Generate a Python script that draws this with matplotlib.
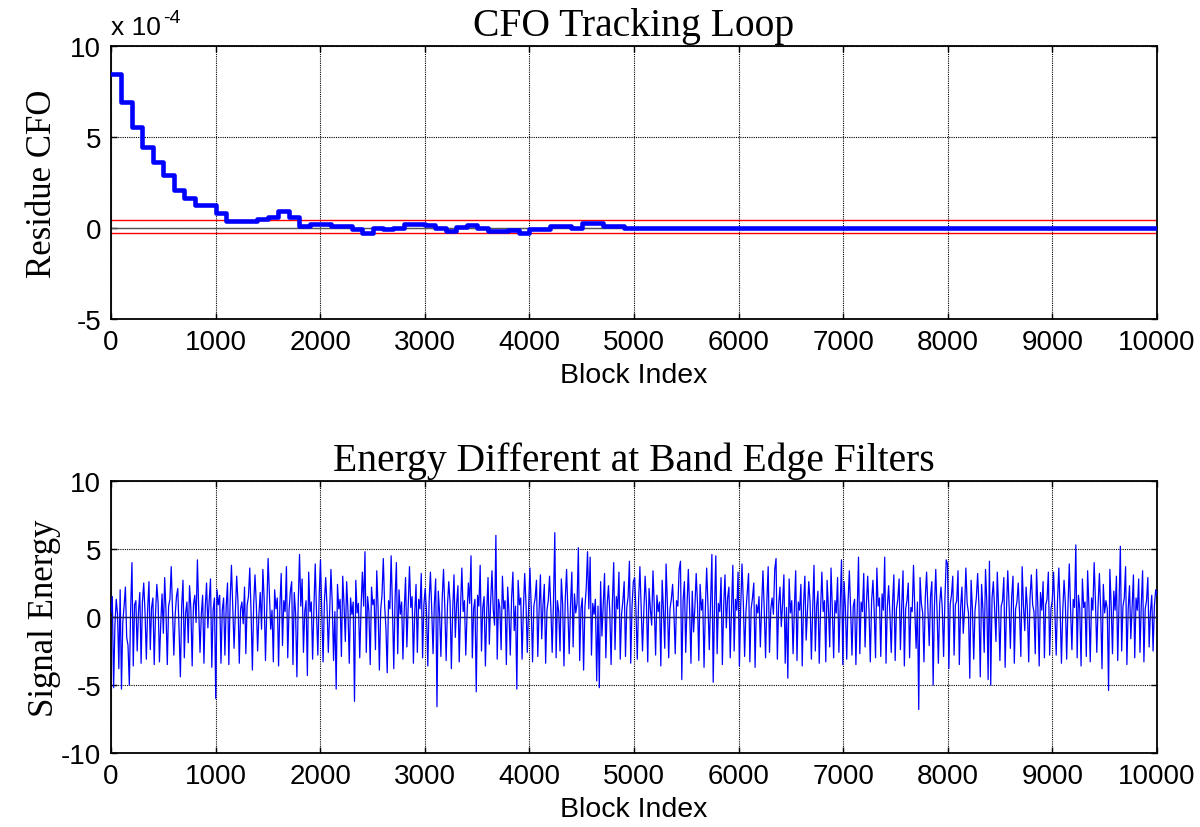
import numpy as np
import matplotlib
matplotlib.use("Agg")
import matplotlib.pyplot as plt
from matplotlib.ticker import FuncFormatter

plt.rcParams["axes.unicode_minus"] = False

# ---------------- data ----------------
# Top panel: residue CFO step curve (values in units of 1e-4)
cfo_step_start = [0, 100, 200, 300, 400, 500, 600, 700, 800, 1000, 1100, 1400,
                  1500, 1600, 1700, 1800, 1900, 2100, 2300, 2400, 2500, 2600,
                  2700, 2800, 3000, 3100, 3200, 3300, 3400, 3500, 3600, 3800,
                  3900, 4000, 4200, 4400, 4500, 4700, 4900, 10000]
cfo_step_value = [8.45, 6.9, 5.55, 4.45, 3.65, 2.9, 2.1, 1.65, 1.25, 0.8, 0.38, 0.47,
                  0.58, 0.93, 0.58, 0.13, 0.24, 0.13, -0.05, -0.25, 0.02, -0.07,
                  0.02, 0.24, 0.15, 0.02, -0.14, 0.05, 0.15, 0.0, -0.17, -0.11,
                  -0.28, -0.07, 0.12, 0.02, 0.25, 0.13, 0.0, 0.0]
cfo_upper_bound = 0.45   # x1e-4
cfo_lower_bound = -0.30  # x1e-4
cfo_scale = 1e-4

# Bottom panel: energy difference at band edge filters (800 samples over 0..10000)
energy_seg0 = [0.3, 1.5, -5.2, -0.6, 1.3, 0.2, -3.8, 2.0, -5.3, -0.4,
               0.8, 2.2, -1.5, -2.1, -5.0, 0.5, 4.0, -3.6, 0.9, 1.2,
               -2.5, 0.4, 1.8, -3.4, 1.1, 2.5, 0.3, -3.1, 0.6, 2.6,
               -2.4, 0.7, 1.4, -3.5, 0.2, 2.4, 1.0, -3.3, -0.5, 1.7,
               -1.2, 2.9, 0.4, -3.5, 0.8, 1.3, 3.7, 0.5, -2.8, 0.1,
               1.5, 2.1, -1.0, -4.4, 0.8, 2.7, -3.0, 0.3, 1.1, -1.9,
               2.3, 0.6, -3.6, 0.9, 1.6, -0.4, 4.2, 0.6, -2.6, 0.2,
               1.6, -3.4, 0.7, 2.5, -0.8, 1.2, 2.8, -3.7, 0.5, 1.4]
energy_seg1 = [-6.0, 2.0, 0.9, 1.6, -3.4, 0.5, 1.4, -2.8, 0.8, 2.5,
               -3.5, 1.2, 3.8, 0.7, -2.3, 0.4, 3.0, 1.1, -3.4, 0.6,
               1.1, -0.5, 2.2, -2.7, 0.9, 1.5, 3.6, 0.3, -3.9, 1.0,
               3.1, 0.9, -2.5, 0.2, 1.8, -0.9, 3.5, 1.3, -3.2, 0.7,
               4.3, 1.6, -0.9, 0.5, -3.3, 2.0, 0.6, 1.4, -3.6, 0.8,
               3.2, -2.1, 1.2, 0.4, 3.7, -3.0, 0.5, 1.9, 2.6, -3.5,
               1.8, 0.3, -4.4, 1.0, 4.6, 0.8, 2.8, -2.6, 0.4, 1.2,
               -4.3, 3.3, 0.4, 1.1, -3.1, 0.7, 3.9, 0.2, -2.8, 1.5]
energy_seg2 = [4.2, 0.6, -3.3, 1.1, 2.9, 0.8, -2.6, 0.3, 3.5, 1.0,
               -3.2, 0.4, -5.3, 2.4, 0.6, 1.3, -2.9, 3.0, 0.9, -1.8,
               2.6, 0.5, -3.4, 1.4, 0.2, 1.1, -6.2, 2.7, 0.3, 1.0,
               -3.0, 0.6, 3.3, 0.8, 4.8, -2.6, 1.5, 0.4, -3.5, 2.2,
               0.9, 1.3, -2.4, 3.4, 0.7, -3.9, 0.5, 1.6, 4.3, 0.9,
               -0.8, -4.1, 1.2, 0.6, 4.5, 0.6, -3.8, 1.4, 4.0, -2.7,
               2.0, 0.2, 1.1, -3.1, 0.5, 2.9, -2.2, 0.8, 3.7, 0.7,
               1.5, -3.4, 0.3, 2.4, -2.6, 1.3, 0.6, 3.2, -3.0, 0.9]
energy_seg3 = [2.1, 0.4, -3.6, 1.2, 3.3, 0.5, -2.7, 1.0, 2.8, -6.6,
               1.9, 0.3, -2.9, 1.4, 3.5, 0.6, -3.2, 0.8, 2.6, 1.1,
               -3.8, 0.5, 3.1, -1.5, 0.9, 2.3, -3.3, 0.7, 3.6, 0.4,
               1.2, -2.8, 0.3, 2.5, 1.0, 4.5, -3.0, 0.6, 1.3, -5.5,
               1.6, 0.8, 3.8, -2.5, 0.7, 1.5, -3.6, 0.4, 2.9, -2.0,
               1.1, 3.4, 0.5, -0.6, 6.0, -3.1, 1.3, 0.7, -2.4, 3.0,
               0.6, 1.2, -3.5, 2.2, 0.3, -2.8, 1.4, 3.3, -1.0, 0.8,
               -5.3, 2.7, 0.9, 1.4, -3.1, 0.5, 3.2, 1.0, -2.6, 0.7]
energy_seg4 = [3.6, 0.7, -3.3, 0.8, 1.4, 2.7, -2.9, 0.5, 3.1, -1.6,
               0.9, 2.4, -3.4, 0.5, 1.2, 3.0, 0.6, -2.6, 1.1, 6.2,
               -3.0, 1.2, 0.4, -2.5, 2.8, 0.9, -3.6, 1.3, 3.5, 0.4,
               -2.7, 0.8, 3.3, -2.2, 1.7, 0.3, 1.0, 5.1, -3.2, 0.6,
               1.4, -3.9, 0.7, 2.1, 4.8, 0.6, 4.4, -2.8, 1.0, 0.2,
               1.3, -4.7, 0.8, -5.2, 2.6, -1.4, 0.9, 3.2, -3.0, 0.9,
               2.3, 0.4, -3.5, 1.1, 4.0, -2.4, 1.5, 0.6, 3.3, -3.1,
               0.2, 1.2, 2.6, -2.9, 0.7, 1.5, 4.1, -3.4, 0.8, 2.6]
energy_seg5 = [2.9, 0.5, -3.1, 1.2, 3.7, 0.7, -2.5, 0.4, 3.0, 1.0,
               -3.3, 2.1, 0.6, -0.6, 3.4, 0.8, -2.8, 1.6, 0.4, 1.1,
               -3.6, 2.7, 0.5, -2.3, 3.9, 1.0, -3.0, 0.6, 1.3, 2.4,
               0.3, -2.7, 1.2, 0.8, 3.5, 4.1, -4.6, 1.2, 2.6, -2.6,
               0.8, 3.5, 0.5, -3.4, 1.9, -1.1, 0.7, 3.2, 1.0, -3.2,
               2.4, 0.5, 1.3, -3.7, 0.6, 3.6, 0.9, -2.4, 1.1, 4.6,
               -4.8, 0.7, 4.5, -2.7, 1.0, 0.4, 2.9, -3.5, 0.8, 3.1,
               -0.8, 1.4, 2.2, -3.0, 0.6, 3.8, -2.5, 1.3, 0.5, 3.3]
energy_seg6 = [-3.6, 0.7, 3.9, 1.1, -2.9, 0.4, 1.8, 3.2, -3.3, 0.6,
               1.4, 2.5, -3.7, 0.9, 0.3, 1.5, -2.2, 0.8, 3.4, 0.5,
               -3.0, 1.2, 3.7, -2.6, 0.6, 1.4, 0.2, 3.5, 4.3, -3.1,
               0.9, 2.2, -0.7, 1.0, 3.1, -3.4, 0.7, -4.5, 2.8, 0.3,
               1.2, -2.7, 0.6, 3.4, -3.2, 1.1, 0.5, 2.4, -3.6, 0.9,
               3.0, -1.7, 0.4, 2.6, 1.1, -3.1, 0.6, 3.8, -2.5, 0.8,
               1.9, -3.4, 0.5, 3.3, 0.4, 1.2, -3.3, 2.7, 0.7, -2.2,
               3.6, 0.6, -3.0, 1.2, 0.3, 2.9, -2.6, 0.7, 4.2, -3.5]
energy_seg7 = [2.6, 0.6, -3.1, 1.1, 3.4, 0.5, -2.8, 0.8, 1.3, -3.5,
               0.6, 4.4, -2.7, 1.1, 0.4, 3.2, -2.2, 0.9, 3.0, 0.5,
               -3.3, 1.2, 2.7, 0.4, -3.0, 3.6, 0.8, 1.4, -2.9, 1.7,
               0.5, 4.4, -3.4, 0.7, 2.3, 0.2, -2.6, 1.0, 3.1, -3.2,
               0.6, 1.3, 2.8, -2.4, 0.8, 3.4, -3.6, 0.6, 1.2, 2.5,
               -3.0, 0.7, 0.4, 3.8, 0.5, -2.3, 1.1, -6.8, 2.9, 1.0,
               0.3, -3.3, 1.4, 3.3, 0.6, -2.1, 1.5, 2.6, -5.0, 0.8,
               3.5, 0.4, -3.4, 1.0, 2.2, 0.6, -2.9, 1.3, 4.2, 3.9]
energy_seg8 = [-3.8, 0.9, 1.6, 3.0, -2.8, 0.9, 1.2, 3.4, -3.5, 0.7,
               2.2, -1.2, 0.5, 3.6, 1.0, 0.3, -4.5, 2.7, 0.6, -3.1,
               0.5, 1.4, 3.2, 0.8, -4.4, 2.4, 0.6, -2.6, 3.5, 1.1,
               -4.6, 4.1, -5.0, 1.4, 2.6, 0.5, -1.8, 3.3, 0.7, -3.2,
               0.8, 1.2, 2.9, -3.7, 0.5, 3.4, 0.9, -2.3, 1.5, 3.0,
               -3.4, 0.6, 1.1, 2.5, 0.3, -2.9, 3.7, 0.8, -1.0, 2.2,
               0.6, -3.3, 1.4, 3.1, 0.9, 0.4, -2.7, 3.5, 0.7, -3.6,
               1.8, 0.5, 2.6, -3.0, 0.9, 1.3, 3.3, -2.8, 0.6, 1.2]
energy_seg9 = [3.3, 0.4, -2.8, 1.2, 3.6, 0.6, -3.4, 0.4, 2.7, 1.0,
               -3.1, 0.8, 3.9, 0.5, -2.4, 1.3, 0.7, 5.3, -3.0, 1.6,
               0.6, -3.6, 2.8, 0.7, 1.1, -2.9, 3.4, 0.8, -3.3, 1.4,
               0.5, 4.0, 1.1, -2.6, 0.9, 3.2, 0.4, -3.8, 2.4, 0.3,
               1.2, 0.6, -5.4, 3.5, 0.8, -2.7, 1.9, 0.5, 3.0, -3.2,
               0.9, 5.2, -2.5, 0.8, 1.4, 3.7, -3.5, 0.6, 2.3, -1.6,
               0.7, 3.1, -3.0, 1.4, 0.5, 2.8, -2.6, 0.9, 3.4, -3.3,
               0.6, 1.2, 2.9, -2.2, 0.4, 1.6, -2.5, 0.8, 2.0, 1.6]

block_max = 10000
x_ticks = list(range(0, 10001, 1000))
top_yticks = [-5, 0, 5, 10]
bottom_yticks = [-10, -5, 0, 5, 10]

title_top = "CFO Tracking Loop"
title_bottom = "Energy Different at Band Edge Filters"
xlabel_text = "Block Index"
ylabel_top = "Residue CFO"
ylabel_bottom = "Signal Energy"

# ---------------- figure ----------------
energy = np.concatenate([energy_seg0, energy_seg1, energy_seg2, energy_seg3, energy_seg4,
                         energy_seg5, energy_seg6, energy_seg7, energy_seg8, energy_seg9])
energy_x = np.linspace(0, block_max, len(energy))

SANS = "Liberation Sans"
SERIF = "Liberation Serif"

fig = plt.figure(figsize=(12, 8.28), dpi=100)
ax1 = fig.add_axes([111/1200, 1 - 320/828, (1157-111)/1200, (320-47)/828])
ax2 = fig.add_axes([111/1200, 1 - 754/828, (1157-111)/1200, (754-482)/828])

grid_kw = dict(color="k", linestyle=(0, (1, 1)), linewidth=0.8)

# top panel
cfo_vals = np.array(cfo_step_value) * cfo_scale
ax1.axhline(0, color="#555555", linewidth=1.0, zorder=1)
ax1.axhline(cfo_upper_bound * cfo_scale, color="red", linewidth=1.0, zorder=2)
ax1.axhline(cfo_lower_bound * cfo_scale, color="red", linewidth=1.0, zorder=2)
ax1.step(cfo_step_start, cfo_vals, where="post", color="#0000ff", linewidth=3.3, zorder=3)
ax1.set_xlim(0, block_max)
ax1.set_ylim(-5e-4, 10e-4)
ax1.set_yticks([v * cfo_scale for v in top_yticks])
ax1.yaxis.set_major_formatter(FuncFormatter(lambda v, p: f"{v / cfo_scale:g}"))
ax1.text(0.0, 1.025, "x 10", transform=ax1.transAxes, fontsize=19,
         family=SANS, ha="left", va="bottom")
ax1.text(0.050, 1.075, "-4", transform=ax1.transAxes, fontsize=14,
         family=SANS, ha="left", va="bottom")
ax1.set_title(title_top, fontsize=28.5, family=SERIF, pad=8)
ax1.set_ylabel(ylabel_top, fontsize=25, family=SERIF, labelpad=8)

# bottom panel
ax2.plot(energy_x, energy, color="#0000ff", linewidth=0.9, zorder=3)
ax2.axhline(0, color="#1a1a5a", linewidth=1.0, zorder=4)
ax2.set_xlim(0, block_max)
ax2.set_ylim(-10, 10)
ax2.set_yticks(bottom_yticks)
ax2.set_title(title_bottom, fontsize=28.5, family=SERIF, pad=8)
ax2.set_ylabel(ylabel_bottom, fontsize=25, family=SERIF, labelpad=0)

for ax in (ax1, ax2):
    ax.set_xticks(x_ticks)
    ax.grid(True, **grid_kw)
    ax.set_axisbelow(True)
    ax.tick_params(direction="in", length=4, width=1, labelsize=20, pad=7,
                   top=True, right=True)
    for lab in ax.get_xticklabels() + ax.get_yticklabels():
        lab.set_family(SANS)
    ax.set_xlabel(xlabel_text, fontsize=20.5, family=SANS, labelpad=5)
    for s in ax.spines.values():
        s.set_linewidth(1.3)

fig.savefig("out.png", dpi=100)
